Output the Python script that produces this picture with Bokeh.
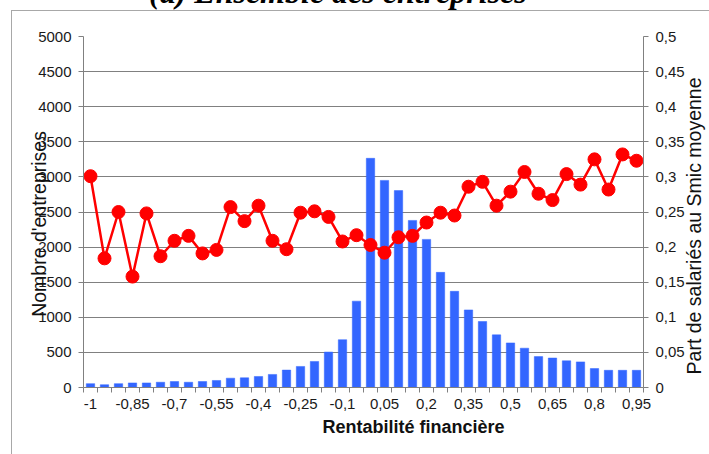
from bokeh.plotting import figure
from bokeh.models import (Range1d, LinearAxis, FixedTicker, Label,
                          ColumnDataSource, Title, InlineStyleSheet)
from bokeh.embed import file_html
from bokeh.resources import INLINE
import math

# ---------------- data ----------------
categories = ["-1", "-0,95", "-0,9", "-0,85", "-0,8", "-0,75", "-0,7", "-0,65",
              "-0,6", "-0,55", "-0,5", "-0,45", "-0,4", "-0,35", "-0,3", "-0,25",
              "-0,2", "-0,15", "-0,1", "-0,05", "0", "0,05", "0,1", "0,15",
              "0,2", "0,25", "0,3", "0,35", "0,4", "0,45", "0,5", "0,55",
              "0,6", "0,65", "0,7", "0,75", "0,8", "0,85", "0,9", "0,95"]

nb_entreprises = [55, 40, 55, 65, 65, 75, 85, 75,
                  85, 100, 133, 138, 157, 186, 248, 300,
                  371, 505, 681, 1230, 3265, 2950, 2805, 2380,
                  2110, 1640, 1370, 1105, 940, 750, 635, 560,
                  440, 420, 380, 365, 270, 245, 245, 245]

part_smic = [0.301, 0.184, 0.250, 0.158, 0.248, 0.187, 0.209, 0.216,
             0.191, 0.196, 0.257, 0.237, 0.259, 0.209, 0.197, 0.249,
             0.251, 0.243, 0.208, 0.217, 0.203, 0.192, 0.214, 0.216,
             0.235, 0.249, 0.245, 0.286, 0.293, 0.259, 0.279, 0.307,
             0.276, 0.267, 0.304, 0.289, 0.325, 0.282, 0.332, 0.323]

x_tick_labels = ["-1", "-0,85", "-0,7", "-0,55", "-0,4", "-0,25", "-0,1",
                 "0,05", "0,2", "0,35", "0,5", "0,65", "0,8", "0,95"]

left_ticks = [0, 500, 1000, 1500, 2000, 2500, 3000, 3500, 4000, 4500, 5000]
right_ticks = [0.0, 0.05, 0.1, 0.15, 0.2, 0.25, 0.3, 0.35, 0.4, 0.45, 0.5]
right_tick_labels = ["0", "0,05", "0,1", "0,15", "0,2", "0,25", "0,3",
                     "0,35", "0,4", "0,45", "0,5"]

title_text = "(a) Ensemble des entreprises"
x_title = "Rentabilité financière"
y_left_title = "Nombre d'entreprises"
y_right_title = "Part de salariés au Smic moyenne"

# ---------------- figure ----------------
FONT = "Liberation Sans"
GRAY = "#808080"
W, H = 709, 454

n = len(categories)
xpos = [i + 0.5 for i in range(n)]
src = ColumnDataSource(dict(x=xpos, cat=categories, nb=nb_entreprises, part=part_smic))

# thin page frame (top and left) seen in the reference
frame_css = InlineStyleSheet(css="""
:host::after {
  content: "";
  position: absolute;
  left: 11px; top: 10px; width: 698px; height: 444px;
  border-left: 1px solid #a8a8a8; border-top: 1px solid #a8a8a8;
  box-sizing: border-box; pointer-events: none; z-index: 100;
}
""")

p = figure(width=W, height=H, output_backend="svg", toolbar_location=None,
           x_range=Range1d(0, n), y_range=Range1d(0, 5000),
           min_border_left=83, min_border_right=58, min_border_top=35,
           min_border_bottom=67, title=None)
p.stylesheets = [frame_css]
p.extra_y_ranges = {"right": Range1d(0, 0.5)}
p.outline_line_color = None
p.background_fill_color = "white"
p.border_fill_color = "white"

# grid
p.xgrid.visible = False
p.ygrid.ticker = FixedTicker(ticks=left_ticks)
p.ygrid.grid_line_color = GRAY
p.ygrid.grid_line_width = 1

# bars
p.vbar(x="x", top="nb", width=0.6, source=src, fill_color="#3366ff",
       line_color="#3366ff", line_width=0.5)

# line
p.line(x="x", y="part", source=src, y_range_name="right", line_color="#ff0000",
       line_width=2.5)
p.scatter(x="x", y="part", source=src, y_range_name="right", size=13,
          fill_color="#ff0000", line_color="#ff0000")

# x axis
xa = p.xaxis[0]
label_pos = [xpos[categories.index(lbl)] for lbl in x_tick_labels]
xa.ticker = FixedTicker(ticks=label_pos, minor_ticks=list(range(n + 1)))
xa.major_label_overrides = {pos: lbl for pos, lbl in zip(label_pos, x_tick_labels)}
xa.major_tick_out = 0
xa.major_tick_in = 0
xa.minor_tick_out = 5
xa.minor_tick_in = 0
xa.minor_tick_line_color = GRAY
xa.axis_line_color = GRAY
xa.major_label_standoff = 6
xa.major_label_text_font = FONT
xa.major_label_text_font_size = "15px"
xa.major_label_text_color = "#1a1a1a"

# left axis
ya = p.yaxis[0]
ya.ticker = FixedTicker(ticks=left_ticks)
ya.major_tick_out = 5
ya.major_tick_in = 0
ya.minor_tick_out = 0
ya.minor_tick_in = 0
ya.axis_line_color = GRAY
ya.major_tick_line_color = GRAY
ya.major_label_standoff = 7
ya.major_label_text_font = FONT
ya.major_label_text_font_size = "15px"
ya.major_label_text_color = "#1a1a1a"

# right axis
ra = LinearAxis(y_range_name="right", ticker=FixedTicker(ticks=right_ticks))
ra.major_label_overrides = {t: l for t, l in zip(right_ticks, right_tick_labels)}
ra.major_tick_out = 5
ra.major_tick_in = 0
ra.minor_tick_out = 0
ra.minor_tick_in = 0
ra.axis_line_color = GRAY
ra.major_tick_line_color = GRAY
ra.major_label_standoff = 7
ra.major_label_text_font = FONT
ra.major_label_text_font_size = "15px"
ra.major_label_text_color = "#1a1a1a"
p.add_layout(ra, "right")

# axis titles
p.add_layout(Title(text=x_title, align="left", offset=239, standoff=6,
                   text_font=FONT, text_font_size="18px", text_font_style="bold",
                   text_color="#111111"), "below")
p.add_layout(Label(x=-3.17, y=2330, text=y_left_title, angle=math.pi / 2,
                   text_font=FONT, text_font_size="19.5px", text_align="center",
                   text_baseline="middle", text_color="#111111"), "left")
p.add_layout(Label(x=43.6, y=2301, text=y_right_title, angle=math.pi / 2,
                   text_font=FONT, text_font_size="19.5px", text_align="center",
                   text_baseline="middle", text_color="#111111"), "right")

# title, mostly cut off at the top edge as in the reference
p.add_layout(Label(x=18.17, y=5639, text=title_text,
                   text_font="Liberation Serif", text_font_size="32px",
                   text_font_style="bold italic", text_align="center",
                   text_baseline="alphabetic", text_color="#000000"), "above")

open("out.html", "w").write(file_html(p, INLINE))
